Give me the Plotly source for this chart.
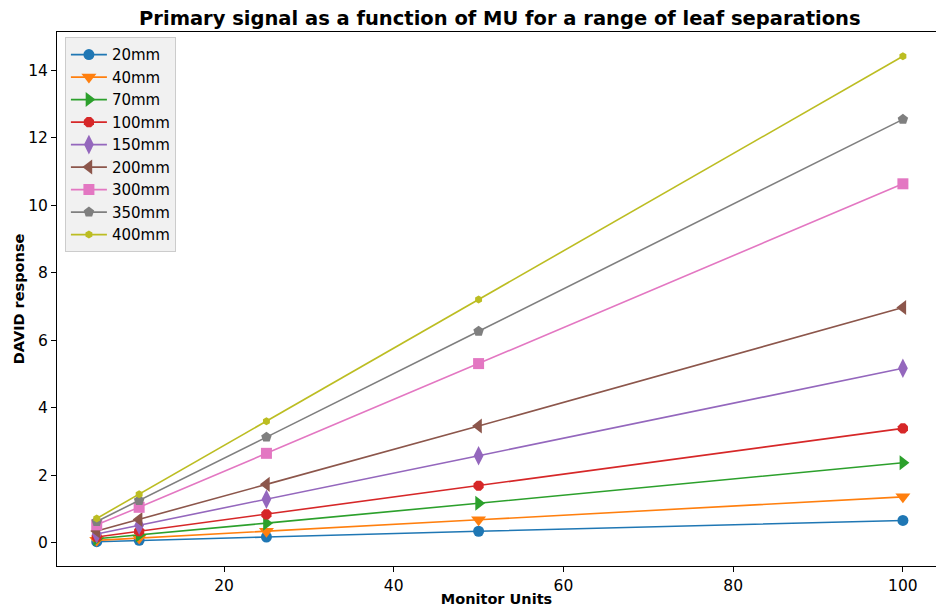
import plotly.graph_objects as go

mu = [5, 10, 25, 50, 100]
labels = ["20mm", "40mm", "70mm", "100mm", "150mm", "200mm", "300mm", "350mm", "400mm"]
s20 = [0.03, 0.07, 0.17, 0.34, 0.66]
s40 = [0.07, 0.14, 0.34, 0.68, 1.36]
s70 = [0.12, 0.23, 0.58, 1.17, 2.37]
s100 = [0.17, 0.34, 0.84, 1.69, 3.39]
s150 = [0.26, 0.52, 1.29, 2.58, 5.17]
s200 = [0.35, 0.69, 1.73, 3.46, 6.97]
s300 = [0.53, 1.05, 2.65, 5.31, 10.64]
s350 = [0.63, 1.25, 3.13, 6.27, 12.55]
s400 = [0.72, 1.44, 3.60, 7.21, 14.42]
series = [s20, s40, s70, s100, s150, s200, s300, s350, s400]

colors = ["#1f77b4", "#ff7f0e", "#2ca02c", "#d62728", "#9467bd",
          "#8c564b", "#e377c2", "#7f7f7f", "#bcbd22"]
symbols = ["circle", "triangle-down", "triangle-right", "octagon", "diamond-tall",
           "triangle-left", "square", "pentagon", "hexagon"]
sizes = [11, 13, 13, 11, 14, 13, 11, 11, 8]

fig = go.Figure()
for lab, ys, c, sym, sz in zip(labels, series, colors, symbols, sizes):
    fig.add_trace(go.Scatter(x=mu, y=ys, name=lab, mode="lines+markers",
                             line=dict(color=c, width=1.6),
                             marker=dict(symbol=sym, size=sz, color=c, line=dict(width=0))))

fig.update_layout(
    width=936, height=607,
    margin=dict(l=57, r=0, t=32, b=41),
    paper_bgcolor="white", plot_bgcolor="white",
    font=dict(family="DejaVu Sans", color="black", size=14),
    title=dict(text="<b>Primary signal as a function of MU for a range of leaf separations</b>",
               x=0.534, xanchor="center", y=0.97, yanchor="middle",
               font=dict(size=19.5, color="black")),
    xaxis=dict(range=[0.32, 103.9], showgrid=False, zeroline=False,
               showline=True, linecolor="black", linewidth=1, mirror=True,
               ticks="outside", ticklen=5, tickcolor="black",
               tickvals=[20, 40, 60, 80, 100], tickfont=dict(size=15.5),
               title=dict(text="<b>Monitor Units</b>", font=dict(size=14.5), standoff=0)),
    yaxis=dict(range=[-0.69, 15.14], showgrid=False, zeroline=False,
               showline=True, linecolor="black", linewidth=1,
               ticks="outside", ticklen=5, tickcolor="black",
               tickvals=[0, 2, 4, 6, 8, 10, 12, 14], tickfont=dict(size=15.5),
               title=dict(text="<b>DAVID response</b>", font=dict(size=14.5), standoff=0)),
    legend=dict(x=0.009, y=0.99, xanchor="left", yanchor="top",
                bgcolor="rgba(240,240,240,0.95)", bordercolor="#cccccc", borderwidth=1,
                font=dict(size=15), itemwidth=36, tracegroupgap=0),
    showlegend=True,
)

fig.write_html("out.html")
